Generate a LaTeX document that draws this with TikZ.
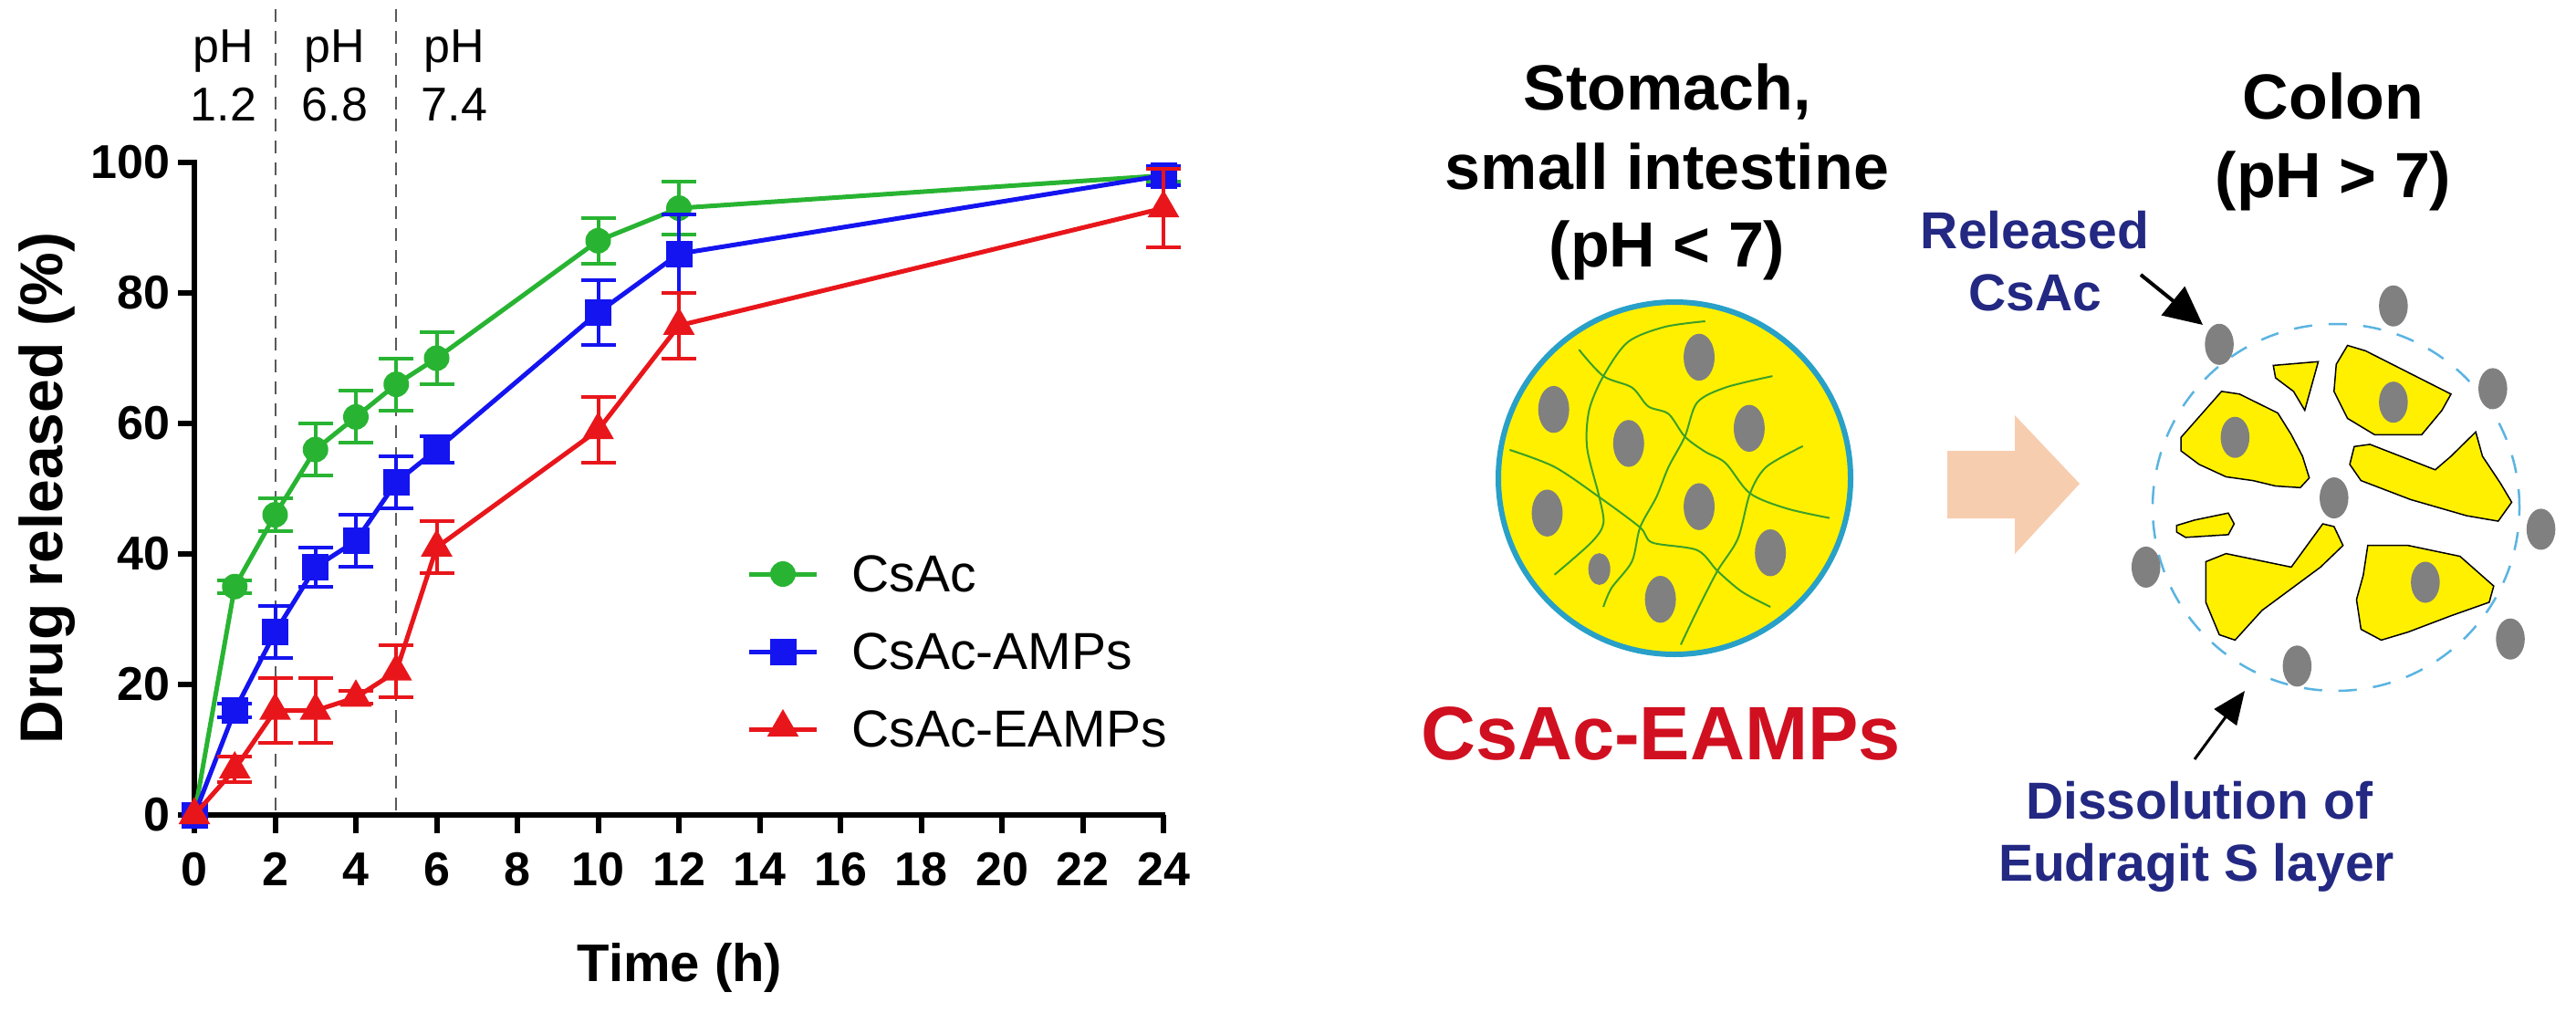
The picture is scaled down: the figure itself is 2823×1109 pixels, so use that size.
\documentclass[tikz,border=0pt]{standalone}
\usepackage{fontspec}
\setmainfont{Liberation Sans}
\usetikzlibrary{shapes.geometric,arrows.meta}
\definecolor{cg}{RGB}{40,180,50}
\definecolor{cb}{RGB}{20,20,240}
\definecolor{cr}{RGB}{232,22,27}
\definecolor{cyel}{RGB}{255,240,0}
\definecolor{ccyan}{RGB}{40,160,200}
\definecolor{cgray}{RGB}{128,128,128}
\definecolor{cnet}{RGB}{60,160,40}
\definecolor{cpeach}{RGB}{247,205,175}
\definecolor{cdash}{RGB}{90,180,225}
\definecolor{cnavy}{RGB}{35,40,130}
\definecolor{cred2}{RGB}{208,16,32}
\tikzset{
  axis/.style={line width=6pt,black},
  ser/.style={line width=5pt,#1},
  err/.style={line width=4pt,#1},
  gmk/.style={circle,fill=cg,inner sep=0,minimum size=28pt},
  bmk/.style={rectangle,fill=cb,inner sep=0,minimum size=29pt},
  rmk/.style={regular polygon,regular polygon sides=3,fill=cr,inner sep=0,minimum size=40pt},
  tick/.style={font=\bfseries\fontsize{52}{60}\selectfont},
  leg/.style={font=\fontsize{57}{66}\selectfont,anchor=west},
  head/.style={font=\bfseries\fontsize{70}{80}\selectfont,anchor=base},
  note/.style={font=\bfseries\fontsize{57}{66}\selectfont,text=cnavy,anchor=base},
  dot/.style={fill=cgray},
  frag/.style={fill=cyel,draw=black,line width=1.5pt},
  net/.style={cnet,line width=2pt},
  pointer/.style={-{Triangle[length=42pt,width=40pt]},line width=4pt,black}
}
\begin{document}
\begin{tikzpicture}[x=1pt,y=-1pt]
\useasboundingbox[fill=white] (0,0) rectangle (2823,1109);
% ---------- plot ----------
\draw[gray!70!black,line width=2pt,dash pattern=on 14pt off 10pt] (301.5,10) -- (301.5,893);
\draw[gray!70!black,line width=2pt,dash pattern=on 14pt off 10pt] (434,10) -- (434,893);
\node[font=\fontsize{52}{60}\selectfont,anchor=base] (ph1) at (245,68) {pH};
\node[font=\fontsize{52}{60}\selectfont,anchor=base] (v1) at (245,132) {1.2};
\node[font=\fontsize{52}{60}\selectfont,anchor=base] (ph2) at (367,68) {pH};
\node[font=\fontsize{52}{60}\selectfont,anchor=base] (v2) at (367,132) {6.8};
\node[font=\fontsize{52}{60}\selectfont,anchor=base] (ph3) at (498,68) {pH};
\node[font=\fontsize{52}{60}\selectfont,anchor=base] (v3) at (498,132) {7.4};
\draw[axis] (213,175) -- (213,896);
\draw[axis] (210,893) -- (1277,893);
\foreach \v in {0,20,...,100}{
  \draw[axis] (195,{893-7.15*\v}) -- (213,{893-7.15*\v});
  \node[tick,anchor=east] (yl\v) at (190,{893-7.15*\v}) {\v};
}
\foreach \t in {0,2,...,24}{
  \draw[axis] ({213+44.25*\t},893) -- ({213+44.25*\t},913);
  \node[tick,anchor=base] (xl\t) at ({213+44.25*\t},970) {\t};
}
\node[font=\bfseries\fontsize{66}{70}\selectfont,rotate=90] (ylab) at (52,535) {Drug released (\%)};
\node[font=\bfseries\fontsize{58}{66}\selectfont,anchor=base] (xlab) at (745,1075) {Time (h)};
% series
\foreach \c/\m/\data in {
 cg/gmk/{0/0/0,1/35/1,2/46/2.5,3/56/4,4/61/4,5/66/4,6/70/4,10/88/3.5,12/93/4,24/98/1},
 cb/bmk/{0/0/0,1/16/1,2/28/4,3/38/3,4/42/4,5/51/4,6/56/2,10/77/5,12/86/6,24/98/1.5},
 cr/rmk/{0/0/0,1/7/2,2/16/5,3/16/5,4/18/1,5/22/4,6/41/4,10/59/5,12/75/5,24/93/6}}{
  \foreach \t/\v/\e [count=\i] in \data{
    \coordinate (\c\i) at ({213+44.25*\t},{893-7.15*\v});
  }
  \draw[ser=\c] (\c1)--(\c2)--(\c3)--(\c4)--(\c5)--(\c6)--(\c7)--(\c8)--(\c9)--(\c10);
  \foreach \t/\v/\e [count=\i] in \data{
    \ifdim \e pt>0.5pt
      \draw[err=\c] ({213+44.25*\t},{893-7.15*(\v-\e)}) -- ({213+44.25*\t},{893-7.15*(\v+\e)});
      \draw[err=\c] ({213+44.25*\t-19},{893-7.15*(\v-\e)}) -- ({213+44.25*\t+19},{893-7.15*(\v-\e)});
      \draw[err=\c] ({213+44.25*\t-19},{893-7.15*(\v+\e)}) -- ({213+44.25*\t+19},{893-7.15*(\v+\e)});
    \fi
    \node[\m] (m\c\i) at (\c\i) {};
  }
}
% legend
\coordinate (lg1) at (821,629); \coordinate (lg2) at (895,629);
\draw[ser=cg] (lg1) -- (lg2); \node[gmk] (lgm) at (858,629) {};
\node[leg] (lgt) at (930,629) {CsAc};
\coordinate (lb1) at (821,714); \coordinate (lb2) at (895,714);
\draw[ser=cb] (lb1) -- (lb2); \node[bmk] (lbm) at (858,714) {};
\node[leg] (lbt) at (930,714) {CsAc-AMPs};
\coordinate (lr1) at (821,799); \coordinate (lr2) at (895,799);
\draw[ser=cr] (lr1) -- (lr2); \node[rmk] (lrm) at (858,797) {};
\node[leg] (lrt) at (930,799) {CsAc-EAMPs};
% ---------- right panel ----------
\node[head] (h1) at (1827,120) {Stomach,};
\node[head] (h2) at (1827,207) {small intestine};
\node[head] (h3) at (1827,292) {(pH < 7)};
\node[head] (c1) at (2557,130) {Colon};
\node[head] (c2) at (2557,216) {(pH > 7)};
\node[font=\bfseries\fontsize{83}{90}\selectfont,text=cred2,anchor=base] (lab) at (1820,832) {CsAc-EAMPs};
% left particle
\node[circle,fill=cyel,draw=ccyan,line width=6pt,minimum size=386pt,inner sep=0] (part) at (1835,524) {};
\begin{scope}[shift={(1400,180)},xscale=0.4464,yscale=0.4145]
 \draw[net] plot[smooth] coordinates {(740,490)(800,560)(870,590)(910,640)(960,660)(1000,720)(1050,760)(1100,790)(1160,870)(1250,910)(1355,935)};
 \draw[net] plot[smooth] coordinates {(1050,415)(950,430)(860,470)(800,560)(765,650)(760,750)(790,880)(800,950)(770,1000)(680,1085)};
 \draw[net] plot[smooth] coordinates {(1215,560)(1100,590)(1030,630)(1000,720)(960,800)(930,880)(890,960)(870,1050)(820,1120)(800,1170)};
 \draw[net] plot[smooth] coordinates {(570,755)(680,800)(790,880)(890,960)(920,1000)(1030,1020)(1080,1075)(1140,1130)(1210,1170)};
 \draw[net] plot[smooth] coordinates {(1290,745)(1200,800)(1160,870)(1130,990)(1080,1075)(1030,1180)(990,1270)};
 \foreach \p in {(1035,510),(678,648),(862,738),(1158,698),(662,922),(1035,905),(1210,1027),(940,1150)}
   \fill[cgray] \p ellipse [x radius=38, y radius=62];
 \fill[cgray] (790,1070) ellipse [x radius=27, y radius=42];
\end{scope}
% big arrow
\fill[cpeach] (2134,494) -- (2208,494) -- (2208,455) -- (2279,530) -- (2208,607) -- (2208,568) -- (2134,568) -- cycle;
% right particle
\node[circle,draw=cdash,line width=2.5pt,dash pattern=on 20pt off 18pt,minimum size=402pt,inner sep=0] (diss) at (2560,556) {};
\begin{scope}[shift={(2050,180)},xscale=0.493,yscale=0.5925]
 \draw[frag] (895,372)--(995,365)--(965,455)--(940,420)--(900,395)--cycle;
 \draw[frag] (1060,335)--(1100,345)--(1290,425)--(1270,455)--(1225,500)--(1120,500)--(1060,470)--(1030,420)--(1035,370)--cycle;
 \draw[frag] (690,505)--(780,420)--(820,425)--(905,460)--(935,500)--(960,540)--(975,580)--(955,598)--(900,595)--(850,585)--(790,578)--(730,555)--(690,530)--cycle;
 \draw[frag] (1075,522)--(1110,518)--(1255,565)--(1290,540)--(1345,495)--(1360,540)--(1400,590)--(1425,625)--(1395,660)--(1325,650)--(1200,620)--(1090,585)--(1065,555)--cycle;
 \draw[frag] (680,668)--(720,658)--(795,645)--(808,665)--(795,685)--(700,690)--(680,680)--cycle;
 \draw[frag] (745,735)--(790,720)--(935,745)--(1005,665)--(1030,670)--(1050,705)--(1000,745)--(870,825)--(810,880)--(775,870)--(745,810)--cycle;
 \draw[frag] (1105,705)--(1195,705)--(1310,725)--(1385,780)--(1375,810)--(1290,835)--(1195,865)--(1135,880)--(1090,860)--(1080,805)--(1095,760)--cycle;
 \foreach \p in {(810,505),(1162,440),(1233,773),(1030,617),(1162,262),(1383,415),(1490,675),(612,745),(1422,878),(948,928)}
   \fill[cgray] \p ellipse [x radius=32, y radius=38];
 \fill[cgray] (775,333) ellipse [x radius=32, y radius=38] coordinate (rdot);
\end{scope}
\node[note] (r1) at (2230,272) {Released};
\node[note] (r2) at (2230,340) {CsAc};
\coordinate (a1s) at (2346,301);
\coordinate (a1e) at (2414,356);
\draw[pointer] (a1s) -- (a1e);
\coordinate (a2s) at (2405,832);
\coordinate (a2e) at (2460,757);
\draw[pointer,-{Triangle[length=36pt,width=30pt]},line width=3pt] (a2s) -- (a2e);
\node[note] (d1) at (2410,897) {Dissolution of};
\node[note] (d2) at (2407,965) {Eudragit S layer};
\end{tikzpicture}
\end{document}
